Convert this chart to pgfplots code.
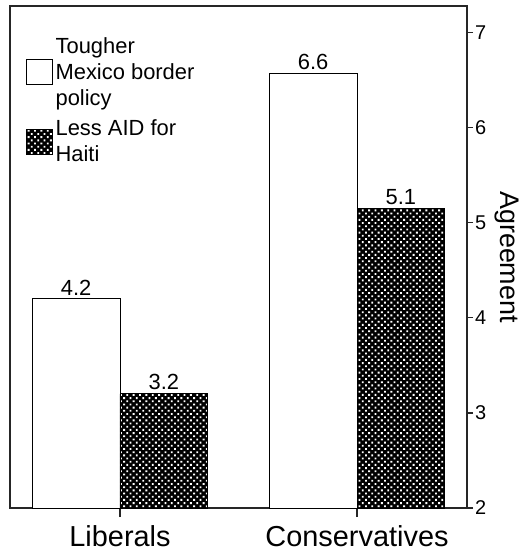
\documentclass[border=0pt]{standalone}
\usepackage{fontspec}
\setmainfont{Liberation Sans}
\usepackage{pgfplots}
\pgfplotsset{compat=1.18}
\usetikzlibrary{patterns.meta}

\begin{document}
\begin{tikzpicture}
\tikzset{
  checker/.style={fill=black,postaction={pattern={Dots[distance=4.5bp,radius=1.3bp,angle=45]},pattern color=white}}
}
\pgfplotsset{
  boxlegend/.style={legend image code/.code={\draw[##1,line width=0.9bp] (0bp,-12.5bp) rectangle (26bp,12.5bp);}}
}
\begin{axis}[
  scale only axis, width=457bp, height=502bp,
  xmin=-0.464, xmax=1.464, ymin=2, ymax=7.28,
  clip=false,
  axis line style={black!85,line width=1.2bp},
  xtick={0,1}, xticklabels={Liberals,Conservatives},
  xtick pos=bottom, ytick pos=right, yticklabel pos=right,
  ytick={2,3,4,5,6,7},
  tick align=outside,
  major tick length=6bp,
  tick style={black!85,line width=1.2bp},
  xtick style={/pgfplots/major tick length=9bp},
  x tick label style={font=\fontsize{29}{32}\selectfont,inner sep=2bp,yshift=-9bp},
  y tick label style={font=\fontsize{20}{24}\selectfont,inner sep=2bp},
  /pgf/number format/assume math mode=true,
  ylabel={Agreement},
  ylabel style={rotate=180,anchor=south,inner sep=6bp,font=\fontsize{27}{30}\selectfont},
  nodes near coords style={font=\fontsize{22}{24}\selectfont,text=black},
  legend cell align=left,
  legend style={at={(rel axis cs:0,1)},anchor=north west,xshift=13bp,yshift=-27bp,
    draw=none,fill=none,font=\fontsize{22}{26}\selectfont,
    nodes={align=left,inner sep=2.5bp},row sep=8bp},
]
\addplot[ybar,bar width=0.37,bar shift=-0.185,draw=black,fill=white,line width=0.9bp,
  point meta=explicit symbolic,nodes near coords,
  every node near coord/.append style={xshift=-43.9bp},boxlegend]
  coordinates {(0,4.2) [4.2] (1,6.57) [6.6]};
\addlegendentry{Tougher\\Mexico border\\policy}
\addplot[ybar,bar width=0.37,bar shift=0.185,draw=black,checker,line width=0.9bp,
  point meta=explicit symbolic,nodes near coords,
  every node near coord/.append style={xshift=43.9bp},boxlegend]
  coordinates {(0,3.2) [3.2] (1,5.15) [5.1]};
\addlegendentry{Less AID for\\Haiti}
\path (rel axis cs:0,0) ++(-10bp,-46bp);
\path (rel axis cs:1,1) ++(55bp,6bp);
\end{axis}
\end{tikzpicture}
\end{document}
